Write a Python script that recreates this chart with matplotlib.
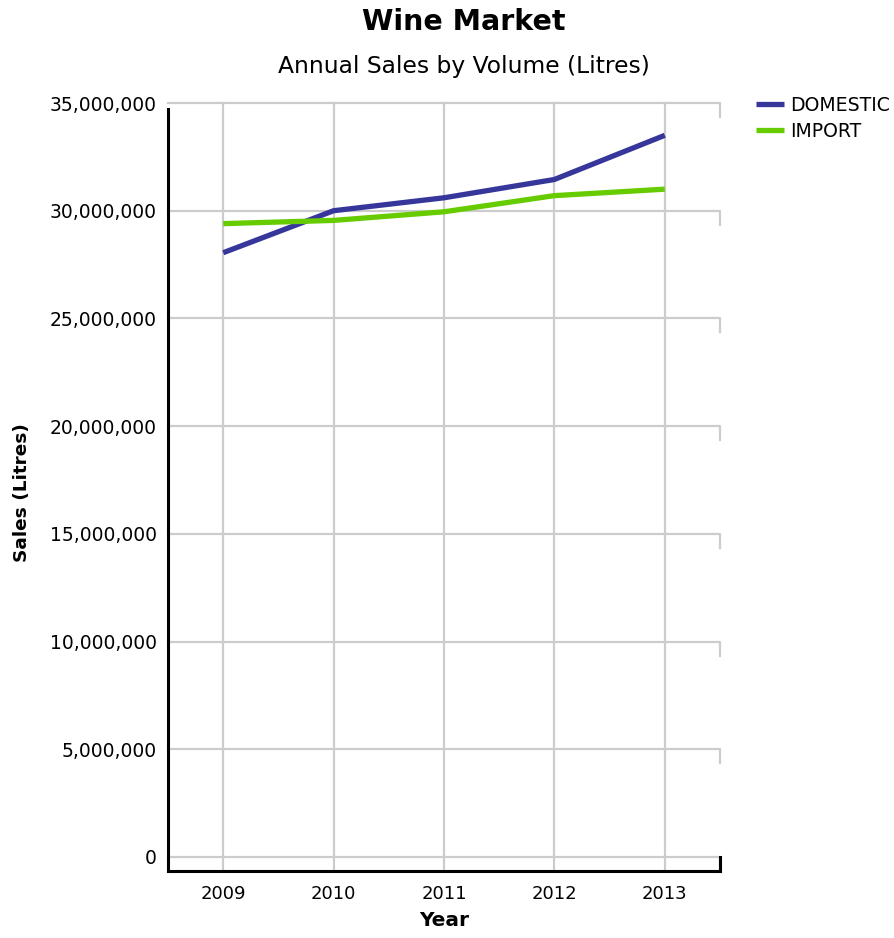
import matplotlib.pyplot as plt
from matplotlib.ticker import FuncFormatter

years = [2009, 2010, 2011, 2012, 2013]
domestic = [28.05e6, 30.0e6, 30.6e6, 31.45e6, 33.5e6]
imports = [29.4e6, 29.55e6, 29.95e6, 30.7e6, 31.0e6]
yticks = [0, 5e6, 10e6, 15e6, 20e6, 25e6, 30e6, 35e6]

grid_col = "#cccccc"
depth = 0.65e6  # the small 3D offset between grid wall and axis

fig = plt.figure(figsize=(8.94, 9.38), dpi=100)
ax = fig.add_axes([168/894, 1 - 871/938, (720-168)/894, (871-103)/938])

x0, x1 = years[0] - 0.5, years[-1] + 0.5
ax.set_xlim(x0, x1)
ax.set_ylim(-depth, 35e6)

# grid wall
for v in yticks:
    ax.plot([x0, x1, x1], [v, v, v - depth], color=grid_col, lw=1.6, zorder=1, clip_on=False)
for yr in years:
    ax.plot([yr, yr], [-depth, 35e6], color=grid_col, lw=1.6, zorder=1, clip_on=False)

ax.plot(years, domestic, color="#37379b", lw=3.8, label="DOMESTIC", zorder=3, solid_capstyle="butt")
ax.plot(years, imports, color="#66cc00", lw=3.8, label="IMPORT", zorder=3, solid_capstyle="butt")

for s in ["top", "right"]:
    ax.spines[s].set_visible(False)
for s in ["left", "bottom"]:
    ax.spines[s].set_linewidth(2.2)
    ax.spines[s].set_color("black")
ax.spines["left"].set_bounds(-depth, 34.72e6)
ax.plot([x1, x1], [-depth, 0], color="black", lw=2.2, clip_on=False, zorder=4,
        solid_capstyle="projecting")

ax.set_xticks(years)
ax.set_yticks(yticks)
ax.yaxis.set_major_formatter(FuncFormatter(lambda v, p: f"{int(v):,}"))
ax.tick_params(axis="y", length=0, pad=8, labelsize=13.5)
ax.tick_params(axis="x", length=0, pad=10, labelsize=13)

ax.set_xlabel("Year", fontsize=14.5, fontweight="bold", labelpad=6)
fig.text(22/894, 1 - 493/938, "Sales (Litres)", rotation=90, fontsize=13.3,
         fontweight="bold", ha="center", va="center")

fig.text(464/894, 1 - 22/938, "Wine Market", fontsize=20.5, fontweight="bold",
         ha="center", va="center")
fig.text(464/894, 1 - 66/938, "Annual Sales by Volume (Litres)", fontsize=16.8,
         ha="center", va="center")

fig.legend(loc="upper left", bbox_to_anchor=(748/894, 1 - 88/938), frameon=False,
           fontsize=13.6, handlelength=1.5, handletextpad=0.35, labelspacing=0.4,
           borderaxespad=0)

fig.savefig("out.png", dpi=100)
